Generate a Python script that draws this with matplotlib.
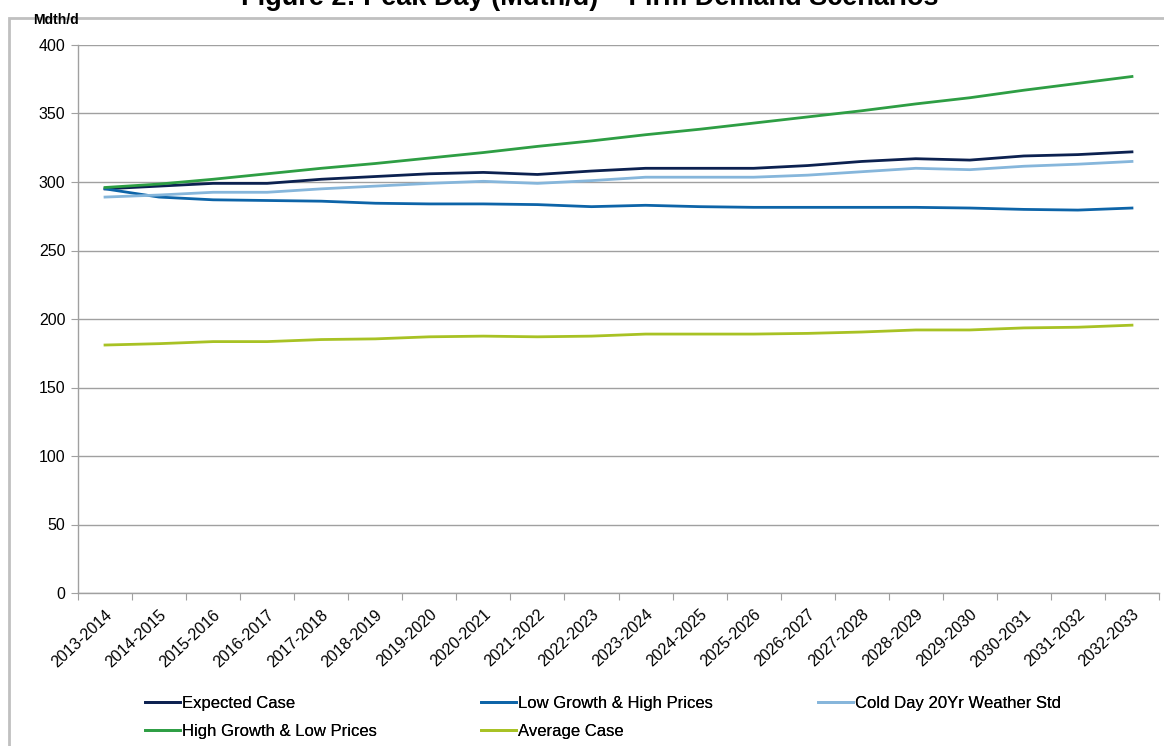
"""Peak day demand scenarios chart."""

import matplotlib
matplotlib.use("Agg")
import matplotlib.pyplot as plt
from matplotlib.patches import Rectangle

plt.rcParams["font.family"] = ["Liberation Sans", "DejaVu Sans"]

years = ["2013-2014", "2014-2015", "2015-2016", "2016-2017", "2017-2018",
         "2018-2019", "2019-2020", "2020-2021", "2021-2022", "2022-2023",
         "2023-2024", "2024-2025", "2025-2026", "2026-2027", "2027-2028",
         "2028-2029", "2029-2030", "2030-2031", "2031-2032", "2032-2033"]

expected = [295, 297, 299, 299, 302, 304, 306, 307, 305.5, 308,
            310, 310, 310, 312, 315, 317, 316, 319, 320, 322]
low_growth = [295, 289, 287, 286.5, 286, 284.5, 284, 284, 283.5, 282,
              283, 282, 281.5, 281.5, 281.5, 281.5, 281, 280, 279.5, 281]
cold_day = [289, 290.5, 292.5, 292.5, 295, 297, 299, 300.5, 299, 301,
            303.5, 303.5, 303.5, 305, 307.5, 310, 309, 311.5, 313, 315]
high_growth = [296, 298.5, 302, 306, 310, 313.5, 317.5, 321.5, 326, 330,
               334.5, 338.5, 343, 347.5, 352, 357, 361.5, 367, 372, 377]
average = [181, 182, 183.5, 183.5, 185, 185.5, 187, 187.5, 187, 187.5,
           189, 189, 189, 189.5, 190.5, 192, 192, 193.5, 194, 195.5]

series = [
    ("Expected Case", expected, "#0c2150"),
    ("Low Growth & High Prices", low_growth, "#0d64a8"),
    ("Cold Day 20Yr Weather Std", cold_day, "#86b6db"),
    ("High Growth & Low Prices", high_growth, "#2e9e44"),
    ("Average Case", average, "#a8c224"),
]

W, H = 1164, 746
fig = plt.figure(figsize=(W / 100, H / 100), dpi=100)
fig.patch.set_facecolor("white")

# chart area frame
fig.patches.append(Rectangle((9 / W, -0.01), 1.1, 1 - 18 / H + 0.01,
                             transform=fig.transFigure, fill=False,
                             edgecolor="#c0c0c0", linewidth=2))

# title, cut off at the top edge like in the source
fig.text(0.507, 1 - 5 / H, "Figure 2: Peak Day (Mdth/d) \u2013 Firm Demand Scenarios",
         ha="center", va="baseline", fontsize=19.5, fontweight="bold")

ax = fig.add_axes([78 / W, 1 - 593 / H, (1159 - 78) / W, (593 - 45) / H])
x = list(range(len(years)))
lines = []
for name, vals, col in series:
    ln, = ax.plot(x, vals, color=col, linewidth=2, label=name)
    lines.append(ln)

ax.set_xlim(-0.5, len(years) - 0.5)
ax.set_ylim(0, 400)
ax.set_yticks(range(0, 401, 50))
ax.yaxis.grid(True, color="#a0a0a0", linewidth=1)
ax.set_axisbelow(True)
for s in ["top", "right"]:
    ax.spines[s].set_visible(False)
for s in ["left", "bottom"]:
    ax.spines[s].set_color("#a0a0a0")
    ax.spines[s].set_linewidth(1)

ax.set_xticks([i - 0.5 for i in range(len(years) + 1)])
ax.set_xticklabels([])
ax.set_xticks(x, minor=True)
ax.set_xticklabels(years, minor=True, rotation=43, ha="right",
                   rotation_mode="anchor", fontsize=11.5)
ax.tick_params(axis="x", which="minor", length=0, pad=10)
ax.tick_params(axis="x", which="major", length=5, color="#a0a0a0")
ax.tick_params(axis="y", length=5, color="#a0a0a0", labelsize=11.5, pad=4)

fig.text(33 / W, 1 - 24 / H, "Mdth/d", fontsize=10, fontweight="bold",
         ha="left", va="baseline")

# legend: three columns placed like the source
columns = [(145, [lines[0], lines[3]]), (481, [lines[1], lines[4]]),
           (818, [lines[2]])]
for left, hs in columns:
    leg = fig.legend(handles=hs, labels=[h.get_label() for h in hs],
                     loc="upper left", bbox_to_anchor=(left / W, 1 - 696 / H),
                     frameon=False, fontsize=12, handlelength=2.1,
                     handletextpad=0.1, labelspacing=0.8,
                     borderaxespad=0, borderpad=0)
    fig.add_artist(leg)

fig.savefig("out.png", dpi=100, facecolor="white")
